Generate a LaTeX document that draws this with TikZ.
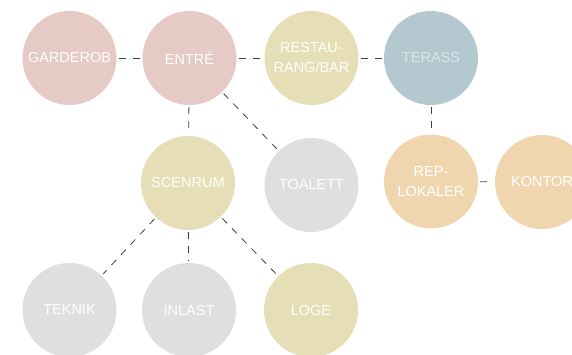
\documentclass[tikz,border=0pt]{standalone}
\usepackage{fontspec}
\setmainfont{Liberation Sans}
\definecolor{cpink}{HTML}{E5CAC5}
\definecolor{cbeige}{HTML}{E6DEB6}
\definecolor{cblue}{HTML}{B4C8D0}
\definecolor{cgray}{HTML}{E1DFDD}
\definecolor{cpeach}{HTML}{F0D6AF}
\definecolor{cterasstext}{HTML}{DCE5EA}
\begin{document}
\begin{tikzpicture}[x=1pt,y=-1pt,
  room/.style={circle, minimum size=94pt, inner sep=0pt, text=white,
    font=\fontsize{14.5}{20}\selectfont, align=center},
  link/.style={draw=black!75, line width=0.8pt, dash pattern=on 7pt off 7pt,
    shorten <=2pt, shorten >=2pt}]
\useasboundingbox (0,0) rectangle (572,354);
\node[room, fill=cpink] (garderob) at (69.5,58) {GARDEROB};
\node[room, fill=cpink] (entre) at (189.5,58) {ENTRÉ};
\node[room, fill=cbeige] (rest) at (311.5,58) {RESTAU-\\RANG/BAR};
\node[room, fill=cblue, text=cterasstext] (terass) at (431,58) {TERASS};
\node[room, fill=cbeige] (scen) at (188,183) {SCENRUM};
\node[room, fill=cgray] (toal) at (311.5,185) {TOALETT};
\node[room, fill=cpeach] (rep) at (431,181.5) {REP-\\LOKALER};
\node[room, fill=cpeach] (kontor) at (542,182) {KONTOR};
\node[room, fill=cgray] (teknik) at (69.5,310) {TEKNIK};
\node[room, fill=cgray] (inlast) at (189,310) {INLAST};
\node[room, fill=cbeige] (loge) at (311,310) {LOGE};
\draw[link] (garderob) -- (entre);
\draw[link] (entre) -- (rest);
\draw[link] (rest) -- (terass);
\draw[link] (entre) -- (scen);
\draw[link] (entre) -- (toal);
\draw[link] (terass) -- (rep);
\draw[link] (rep) -- (kontor);
\draw[link] (scen) -- (teknik);
\draw[link] (scen) -- (inlast);
\draw[link] (scen) -- (loge);
\end{tikzpicture}
\end{document}
